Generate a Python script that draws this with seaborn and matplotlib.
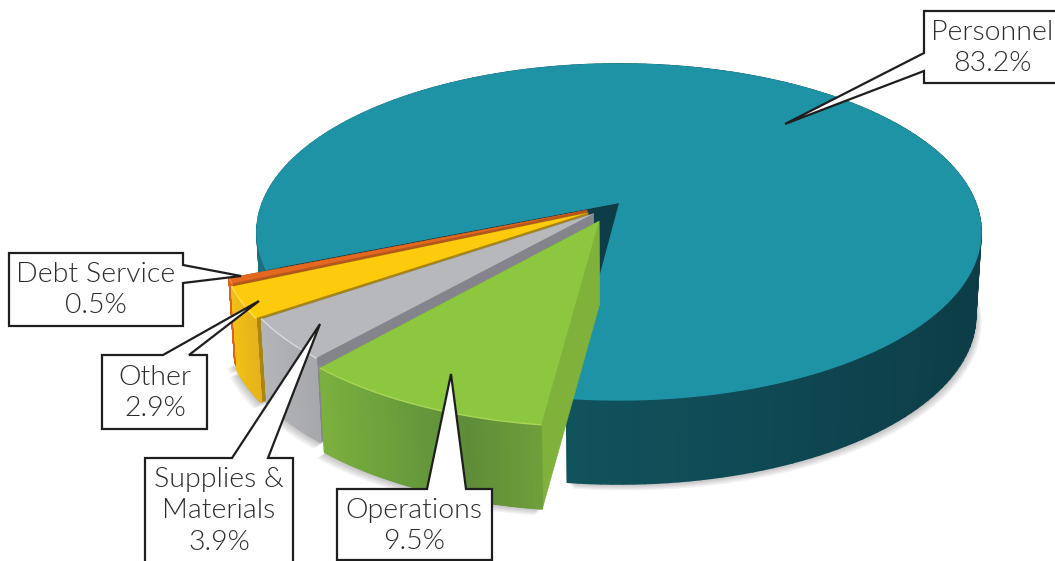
import numpy as np
import matplotlib
matplotlib.use('Agg')
import matplotlib.pyplot as plt
import matplotlib.transforms as mtransforms
from matplotlib.collections import PolyCollection
from matplotlib.patches import Polygon
import seaborn as sns

# Data
categories = ['Personnel', 'Debt Service', 'Other', 'Supplies &\nMaterials', 'Operations']
shares = [83.2, 0.5, 2.9, 3.9, 9.5]
explode = [0, 0.11, 0.113, 0.115, 0.12]

# Styles
top_colors = ['#1f93a6', '#e2691f', '#fdcb0b', '#b6b8bb', '#8dc63f']
cut_colors = ['#0d3d49', '#b5561c', '#a98512', '#84858c', '#7fb13b']
side_colors = [['#1b6e7c', '#12565f', '#0f4a55', '#0d3d46'],
               ['#d9641c', '#d9641c'],
               ['#f2c014', '#e6b31c'],
               ['#b3b5b8', '#a6a8ac'],
               ['#7cb03e', '#6a9f3c', '#5f8c38', '#6f9e3a']]
rim_colors = ['#1f93a6', '#ee8a45', '#ffe050', '#d8d9db', '#aad556']
# slices sit slightly off the true explode line
nudge_x = [0, 0.012, 0.012, 0.015, -0.006]
nudge_y = [0, 0, -0.004, 0.012, 0]
depth = 84
wall_taper = 0.985

sns.set_theme(style='white')
plt.rcParams['font.family'] = ['Lato', 'DejaVu Sans']


class Tilt(mtransforms.Transform):
    # flat pie -> screen pixels, with a bit of perspective
    input_dims = 2
    output_dims = 2

    def __init__(self, cx=619, cy=203, a=356.6, b=163, k=0.1725):
        super().__init__()
        self.cx, self.cy, self.a, self.b, self.k = cx, cy, a, b, k

    def transform_non_affine(self, values):
        values = np.asarray(values, dtype=float)
        w = 1 + self.k * values[:, 1]
        return np.column_stack([self.cx + self.a * values[:, 0] / w,
                                self.cy - self.b * values[:, 1] / w])


fig = plt.figure(figsize=(10.55, 5.61), dpi=100)
ax = fig.add_axes([0, 0, 1, 1])
wedges, _ = ax.pie(shares, explode=explode, colors=top_colors, startangle=263,
                   wedgeprops={'linewidth': 0})
ax.set_aspect('auto')
ax.set_xlim(0, 1055)
ax.set_ylim(561, 0)
ax.axis('off')

tilt = Tilt()


def arc_points(w):
    t = np.radians(np.linspace(w.theta1, w.theta2, 200))
    cx, cy = w.center
    return tilt.transform(np.column_stack([cx + w.r * np.cos(t), cy + w.r * np.sin(t)]))


def lower(pts):
    # same points on the bottom of the pie, which is a little narrower
    pts = np.atleast_2d(pts).copy()
    pts[:, 0] = tilt.cx + (pts[:, 0] - tilt.cx) * wall_taper
    pts[:, 1] += depth
    return pts


for i, w in enumerate(wedges):
    z = 3 + i * 2
    w.set_center((w.center[0] + nudge_x[i], w.center[1] + nudge_y[i]))
    arc = arc_points(w)
    apex = tilt.transform(np.array([w.center]))
    arc_low = lower(arc)
    apex_low = lower(apex)

    # soft shadow under the slices
    for s in range(1, 6):
        shadow = lower(np.vstack([apex, arc])) + np.array([-1.5 * s if i else 1.2 * s, 1.3 * s])
        ax.add_patch(Polygon(shadow, closed=True, fc='black', ec='none', alpha=0.05, zorder=2))

    # cut faces
    cuts = [[apex[0], arc[0], arc_low[0], apex_low[0]],
            [apex[0], arc[-1], arc_low[-1], apex_low[0]]]
    ax.add_collection(PolyCollection(cuts, facecolors=cut_colors[i], edgecolors=cut_colors[i],
                                     linewidths=0.5, zorder=z))

    # outer wall, shaded from left to right
    cmap = sns.blend_palette(side_colors[i], as_cmap=True)
    pos = (arc[:, 0] - arc[:, 0].min()) / (arc[:, 0].max() - arc[:, 0].min())
    quads = [[arc[j], arc[j + 1], arc_low[j + 1], arc_low[j]] for j in range(len(arc) - 1)]
    cols = cmap(pos[:-1])
    ax.add_collection(PolyCollection(quads, facecolors=cols, edgecolors=cols,
                                     linewidths=1.2, zorder=z))

    # top face is the pie wedge itself
    w.set_transform(tilt + ax.transData)
    w.set_zorder(z + 1)
    ax.plot(arc[:, 0], arc[:, 1], color=rim_colors[i], lw=1.0, zorder=z + 1)

# Callouts
callouts = [
    [(924, 11), (1062, 11), (1062, 83), (924, 83), (924, 71), (785, 124), (924, 53)],
    [(9, 253), (183, 253), (183, 265), (241, 276), (183, 283), (183, 326), (9, 326)],
    [(102, 355), (163, 355), (259, 301), (189, 355), (207, 355), (207, 429), (102, 429)],
    [(145, 458), (232, 458), (320, 324), (268, 458), (293, 458), (293, 570), (145, 570)],
    [(337, 489), (427, 489), (451, 374), (466, 489), (492, 489), (492, 560), (337, 560)],
]
label_xy = [(992, 48), (96, 290), (155, 393), (219, 511), (414, 526)]

for i, name in enumerate(categories):
    ax.add_patch(Polygon(callouts[i], closed=True, fc='white', ec='#1e1e1e', lw=1.6,
                         joinstyle='miter', zorder=20))
    ax.text(label_xy[i][0], label_xy[i][1], f'{name}\n{shares[i]}%', ha='center', va='center',
            fontsize=20.5, fontweight=300, color='#2b2b2b', linespacing=1.32, zorder=21)

fig.savefig('out.png', dpi=100)
